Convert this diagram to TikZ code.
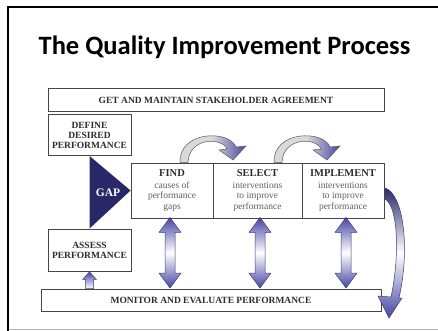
\documentclass[tikz,border=0pt]{standalone}
\usepackage{fontspec}
\setmainfont{Liberation Serif}
\newfontfamily\titlefont{Carlito}
\usetikzlibrary{calc}
\definecolor{navy}{RGB}{40,40,105}
\definecolor{arrblue}{RGB}{70,70,165}
\definecolor{arredge}{RGB}{60,60,120}
\definecolor{boxline}{RGB}{70,70,70}
\definecolor{captext}{RGB}{45,45,45}
\definecolor{bodytext}{RGB}{95,95,95}
\tikzset{
  box/.style={draw=boxline, line width=0.9pt, fill=white, inner sep=0pt, align=center,
    text=captext, font=\fontsize{9.5}{10}\selectfont\bfseries},
  cell/.style={draw=boxline, line width=0.9pt, fill=white, inner sep=0pt, align=center,
    minimum height=55pt, font=\fontsize{9.5}{10.4}\selectfont},
  dblarrow/.style={draw=arredge, line width=0.5pt, top color=arrblue, bottom color=arrblue, middle color=white},
  uparrow/.style={draw=arredge, line width=0.5pt, top color=arrblue, bottom color=white},
  curvarrow/.style={draw=gray!70!black, line width=0.5pt, left color=gray!30, right color=arrblue, middle color=gray!30},
  bigcurv/.style={draw=arredge, line width=0.5pt, top color=navy, bottom color=arrblue, middle color=white},
}
\newcommand\celltitle[1]{{\fontsize{10.5}{11}\selectfont\bfseries\color{captext}#1}}
\newcommand\dblarr[3]{%
  \path[dblarrow] let \p1=($(#1.south)+(#3,-1)$), \p2=($(#2.north -| \p1)+(0,-0.5)$) in
    (\x1,\y1) -- (\x1+11pt,\y1-15pt) -- (\x1+5pt,\y1-15pt) -- (\x1+5pt,\y2+15pt)
    -- (\x1+11pt,\y2+15pt) -- (\x1,\y2) -- (\x1-11pt,\y2+15pt) -- (\x1-5pt,\y2+15pt)
    -- (\x1-5pt,\y1-15pt) -- (\x1-11pt,\y1-15pt) -- cycle;}
\begin{document}
\begin{tikzpicture}[x=1pt,y=-1pt]
\useasboundingbox (0,0) rectangle (438,331);
% frame
\draw[gray!60, line width=1pt] (8,329.5) -- (438,329.5);
\draw[black, line width=2.2pt] (8,331) -- (8,7) -- (438,7);
% title
\node[font=\titlefont\fontsize{26.5}{30}\selectfont\bfseries, anchor=base] (title) at (224.5,55) {The Quality Improvement Process};
% boxes
\node[box, minimum width=336pt, minimum height=23pt] (agree) at (216,100) {GET AND MAINTAIN STAKEHOLDER AGREEMENT};
\node[box, minimum width=83pt, minimum height=41pt] (define) at (89.5,135) {DEFINE\\DESIRED\\PERFORMANCE};
\node[box, minimum width=83pt, minimum height=42pt] (assess) at (89.5,250) {ASSESS\\PERFORMANCE};
\node[box, minimum width=340pt, minimum height=22pt] (monitor) at (211,300) {MONITOR AND EVALUATE PERFORMANCE};
\node[cell, minimum width=82pt] (find) at (172,190.5) {\celltitle{FIND}\\[1.5pt]{\color{bodytext}causes of}\\{\color{bodytext}performance}\\{\color{bodytext}gaps}};
\node[cell, minimum width=89pt] (select) at (257.5,190.5) {\celltitle{SELECT}\\[1.5pt]{\color{bodytext}interventions}\\{\color{bodytext}to improve}\\{\color{bodytext}performance}};
\node[cell, minimum width=82pt] (implement) at (343,190.5) {\celltitle{IMPLEMENT}\\[1.5pt]{\color{bodytext}interventions}\\{\color{bodytext}to improve}\\{\color{bodytext}performance}};
% GAP triangle
\fill[navy] (define.south) -- (find.west) -- (assess.north) -- cycle;
\node[text=white, font=\fontsize{11.5}{12}\selectfont\bfseries] (gap) at (108,193) {GAP};
% double arrows
\dblarr{find}{monitor}{-2}
\dblarr{select}{monitor}{2.5}
\dblarr{implement}{monitor}{3}
% small up arrow
\path[uparrow] let \p1=(assess.south), \p2=(monitor.north -| \p1) in
  (\x1,\y1-0.5pt) -- (\x1+7pt,\y1-8pt) -- (\x1+4pt,\y1-8pt) -- (\x1+4pt,\y2) -- (\x1-4pt,\y2)
  -- (\x1-4pt,\y1-8pt) -- (\x1-7pt,\y1-8pt) -- cycle;
% top curved arrows
\foreach \dx in {0,94}{
\begin{scope}[xshift=\dx pt]
\path[curvarrow] (180,162.5) .. controls (179,130) and (230,130) .. (236,147)
  -- (246,146) -- (233,160) -- (219,150) -- (227,149)
  .. controls (222,137) and (189,137) .. (188,162.5) -- cycle;
\end{scope}}
% right curved arrow
\path[bigcurv] (385,188) .. controls (404,194) and (410,250) .. (399,298)
  -- (402,298) -- (389,318) -- (378,296) -- (391,297)
  .. controls (400,255) and (398,206) .. (385,199) -- cycle;
\end{tikzpicture}
\end{document}
